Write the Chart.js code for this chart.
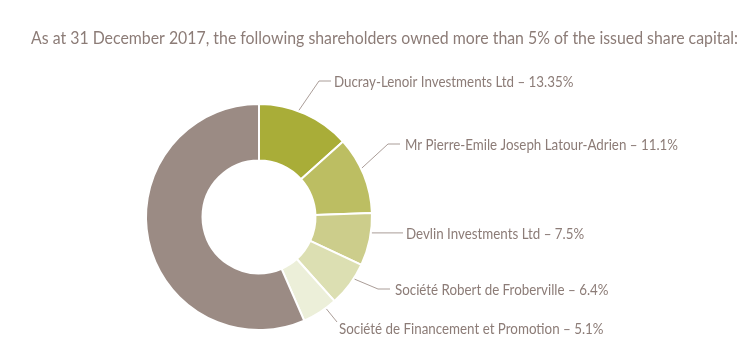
<!DOCTYPE html>
<html>
<head>
<meta charset="utf-8">
<script src="https://cdn.jsdelivr.net/npm/chart.js@4"></script>
<style>
  html, body { margin: 0; padding: 0; background: #ffffff; }
  #wrap { width: 752px; height: 358px; position: relative; }
</style>
</head>
<body>
<div id="wrap"><canvas id="c" width="752" height="358"></canvas></div>
<script>
const titleText = "As at 31 December 2017, the following shareholders owned more than 5% of the issued share capital:";
const categories = [
  "Ducray-Lenoir Investments Ltd",
  "Mr Pierre-Emile Joseph Latour-Adrien",
  "Devlin Investments Ltd",
  "Société Robert de Froberville",
  "Société de Financement et Promotion",
  "Others"
];
const shareValues = [13.35, 11.1, 7.5, 6.4, 5.1, 56.55];
const valueLabels = ["13.35%", "11.1%", "7.5%", "6.4%", "5.1%", ""];
const sliceColors = ["#a9ad38", "#bcbe62", "#cccd8b", "#dcdfb2", "#ecefd9", "#9b8b84"];

const TEXT_COLOR = "#8c7c77";
const LINE_COLOR = "#a0928c";
const TITLE_WIDTH = 707;
const LABEL_CONDENSE = 0.89;

// label layout (relative to doughnut centre): elbow point, end of horizontal run, text position
const labelLayout = [
  { elbow: [60, -136], end: [72, -136], text: [75, -136] },
  { elbow: [129, -73], end: [141, -73], text: [146, -73] },
  { elbow: null, end: [144, 16], text: [147, 16] },
  { elbow: [119, 72], end: [131, 72], text: [136, 72] },
  { elbow: [78, 105], end: [78, 105], text: [80, 111] }
];

function drawCondensed(ctx, text, x, y, sx) {
  ctx.save();
  ctx.translate(x, y);
  ctx.scale(sx, 1);
  ctx.fillText(text, 0, 0);
  ctx.restore();
}

const labelPlugin = {
  id: 'labelPlugin',
  afterDraw(chart) {
    const ctx = chart.ctx;
    ctx.save();
    // title
    ctx.fillStyle = TEXT_COLOR;
    ctx.font = '17px Lato, "Open Sans", sans-serif';
    ctx.textBaseline = 'alphabetic';
    ctx.textAlign = 'left';
    const tw = ctx.measureText(titleText).width;
    drawCondensed(ctx, titleText, 31, 44, Math.min(1, TITLE_WIDTH / tw));

    const meta = chart.getDatasetMeta(0);
    meta.data.forEach((arc, i) => {
      const lay = labelLayout[i];
      if (!lay) return;
      const p = arc.getProps(['x', 'y', 'startAngle', 'endAngle', 'outerRadius'], true);
      const a = (p.startAngle + p.endAngle) / 2 - 3.5 * Math.PI / 180;
      const r = p.outerRadius + 1;
      const sx = p.x + r * Math.cos(a);
      const sy = p.y + r * Math.sin(a);
      ctx.strokeStyle = LINE_COLOR;
      ctx.lineWidth = 0.9;
      ctx.beginPath();
      ctx.moveTo(sx, sy);
      if (lay.elbow) ctx.lineTo(p.x + lay.elbow[0], p.y + lay.elbow[1]);
      ctx.lineTo(p.x + lay.end[0], lay.elbow ? p.y + lay.end[1] : sy);
      ctx.stroke();

      ctx.fillStyle = TEXT_COLOR;
      ctx.font = '15px Lato, "Open Sans", sans-serif';
      ctx.textBaseline = 'alphabetic';
      drawCondensed(ctx, categories[i] + " \u2013 " + valueLabels[i],
        p.x + lay.text[0], p.y + lay.text[1] + 5.5, LABEL_CONDENSE);
    });
    ctx.restore();
  }
};

new Chart(document.getElementById('c'), {
  type: 'doughnut',
  data: {
    labels: categories,
    datasets: [{
      data: shareValues,
      backgroundColor: sliceColors,
      borderColor: '#ffffff',
      borderWidth: 2,
      hoverOffset: 0
    }]
  },
  options: {
    responsive: false,
    animation: false,
    cutout: '50%',
    layout: { padding: { left: 145, top: 103, right: 379, bottom: 27 } },
    plugins: {
      legend: { display: false },
      tooltip: { enabled: false },
      title: { display: false }
    }
  },
  plugins: [labelPlugin]
});
</script>
</body>
</html>
